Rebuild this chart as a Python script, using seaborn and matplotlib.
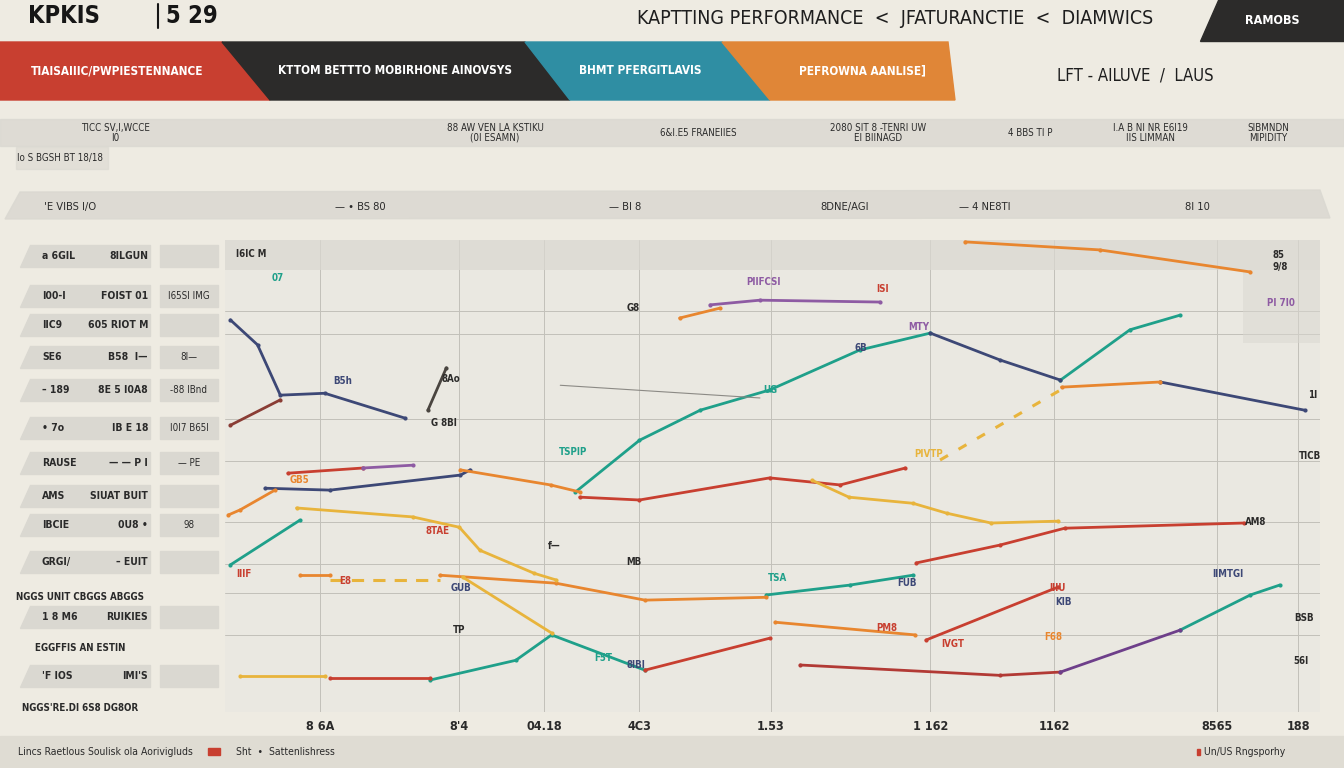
"""
KPI performance dashboard - line chart recreation
"""

import matplotlib
matplotlib.use("Agg")
import matplotlib.pyplot as plt
from matplotlib.patches import Polygon, Rectangle
import seaborn as sns

BG     = "#EEEBE2"
PANEL  = "#DAD8D1"
PLOTBG = "#EAE8E1"
RED    = "#C83F30"
NAVY   = "#3D4876"
TEAL   = "#1FA08A"
ORANGE = "#E8862F"
GOLD   = "#E8B43C"
PURPLE = "#8E5BA3"
DARK   = "#2C2B2A"

# ---- series data (x: period index 0-100, y: score 0-100) ----
teal_a_x = [0.5, 6.9]
teal_a_y = [30.9, 40.4]
teal_b_x = [18.9, 26.8, 30.1, 38.7]
teal_b_y = [6.4, 10.6, 16.0, 8.5]
teal_c_x = [32.3, 38.2, 43.8, 50.2, 58.5, 65.0]
teal_c_y = [46.4, 57.4, 63.8, 68.1, 76.6, 80.2]
teal_d_x = [77.0, 83.4, 88.0]
teal_d_y = [70.2, 80.9, 84.0]
teal_e_x = [49.9, 57.6, 63.4]
teal_e_y = [24.5, 26.6, 28.7]
teal_f_x = [88.0, 94.5, 97.2]
teal_f_y = [17.0, 24.5, 26.6]

navy_a_x = [0.5, 3.0, 5.1, 9.2, 16.6]
navy_a_y = [83.0, 77.7, 67.0, 67.4, 62.1]
navy_b_x = [3.7, 9.7, 21.7, 22.6]
navy_b_y = [47.2, 46.8, 50.0, 51.1]
navy_c_x = [65.0, 71.4, 77.0]
navy_c_y = [80.2, 74.5, 70.2]
navy_d_x = [86.2, 99.5]
navy_d_y = [69.8, 63.8]
navy_e_x = [18.7, 20.4]
navy_e_y = [63.8, 72.8]

red_a_x = [0.5, 5.1]
red_a_y = [60.6, 66.0]
red_b_x = [5.8, 12.7]
red_b_y = [50.4, 51.5]
red_c_x = [32.7, 38.2, 50.2, 56.7, 62.7]
red_c_y = [45.3, 44.7, 49.4, 47.9, 51.5]
red_d_x = [63.7, 71.4, 77.4, 93.9]
red_d_y = [31.3, 35.1, 38.7, 39.8]
red_e_x = [9.7, 18.9]
red_e_y = [6.8, 6.8]
red_f_x = [38.7, 50.2]
red_f_y = [8.5, 15.3]
red_g_x = [64.6, 76.8]
red_g_y = [14.9, 26.2]
red_h_x = [53.0, 71.4, 77.0]
red_h_y = [9.6, 7.4, 8.1]

purple_a_x = [77.0, 88.0]
purple_a_y = [8.1, 17.0]
purple_b_x = [44.7, 49.3, 60.4]
purple_b_y = [86.2, 87.2, 86.8]
purple_c_x = [12.7, 17.3]
purple_c_y = [51.5, 52.1]

orange_a_x = [0.3, 1.4, 4.6]
orange_a_y = [41.5, 42.6, 46.8]
orange_b_x = [6.9, 9.7]
orange_b_y = [28.7, 28.7]
orange_c_x = [21.7, 30.0, 32.7]
orange_c_y = [51.1, 47.9, 46.4]
orange_d_x = [68.2, 80.6, 94.5]
orange_d_y = [99.6, 97.9, 93.2]
orange_e_x = [19.8, 30.5, 38.7, 49.9]
orange_e_y = [28.7, 27.0, 23.4, 24.0]
orange_f_x = [77.1, 86.2]
orange_f_y = [68.7, 69.8]
orange_g_x = [50.7, 63.6]
orange_g_y = [18.7, 16.0]
orange_h_x = [41.9, 45.6]
orange_h_y = [83.4, 85.5]

gold_a_x = [1.4, 9.2]
gold_a_y = [7.2, 7.2]
gold_b_x = [6.6, 17.3, 21.6, 23.5, 28.5, 30.5]
gold_b_y = [43.0, 41.1, 38.9, 34.0, 29.1, 27.7]
gold_c_x = [21.9, 30.1]
gold_c_y = [28.3, 16.4]
gold_d_x = [54.1, 57.5, 63.4, 66.5, 70.6, 76.8]
gold_d_y = [48.9, 45.3, 44.0, 41.9, 39.8, 40.2]
gold_e_x = [65.9, 77.0]
gold_e_y = [53.2, 68.1]
gold_f_x = [9.7, 19.8]
gold_f_y = [27.7, 27.7]

gray_a_x = [30.9, 49.3]
gray_a_y = [69.1, 66.4]

x_ticks  = [8.8, 21.6, 29.4, 38.2, 50.3, 65.0, 76.4, 91.4, 98.9]
x_labels = ["8 6A", "8'4", "04.18", "4C3", "1.53", "1 162", "1162", "8565", "188"]

# small in-chart labels: (x, y, text, colour)
point_labels = [
    (1.0, 97.0, "I6IC M", DARK), (4.3, 92.0, "07", TEAL),
    (10.0, 70.0, "B5h", NAVY), (20.0, 70.5, "8Ao", DARK),
    (19.0, 61.0, "G 8BI", DARK), (30.8, 55.0, "TSPIP", TEAL),
    (6.0, 49.0, "GB5", ORANGE), (18.5, 38.0, "8TAE", RED),
    (29.8, 35.0, "f\u2014", DARK), (37.0, 31.5, "MB", DARK),
    (1.0, 29.0, "IIIF", RED), (10.5, 27.5, "E8", RED),
    (20.8, 26.0, "GUB", NAVY), (21.0, 17.0, "TP", DARK),
    (34.0, 11.0, "F5T", TEAL), (37.0, 9.5, "8IBI", NAVY),
    (48.0, 91.0, "PIIFCSI", PURPLE), (37.0, 85.5, "G8", DARK),
    (60.0, 89.5, "ISI", RED), (63.0, 81.5, "MTY", PURPLE),
    (58.0, 77.0, "6B", NAVY), (49.6, 68.0, "UG", TEAL),
    (63.5, 54.5, "PIVTP", GOLD), (50.0, 28.0, "TSA", TEAL),
    (62.0, 27.0, "FUB", NAVY), (60.0, 17.5, "PM8", RED),
    (66.0, 14.0, "IVGT", RED), (76.0, 26.0, "IIIU", RED),
    (76.5, 23.0, "KIB", NAVY), (75.5, 15.5, "F68", ORANGE),
    (91.0, 29.0, "IIMTGI", NAVY), (94.0, 40.0, "AM8", DARK),
    (96.5, 95.5, "85\n9/8", DARK), (96.0, 86.5, "PI 7I0", PURPLE),
    (99.8, 67.0, "1I", DARK), (99.0, 54.0, "TICB", DARK),
    (98.5, 19.5, "BSB", DARK), (98.5, 10.5, "56I", DARK),
]

# left KPI table rows: (row centre px, left label, middle label, right label)
table_rows = [
    (256, "a 6GIL", "8ILGUN", ""),
    (296, "I00-I", "FOIST 01", "I65SI IMG"),
    (325, "IIC9", "605 RIOT M", ""),
    (357, "SE6", "B58  I\u2014", "8I\u2014"),
    (390, "\u2013 189", "8E 5 I0A8", "-88 IBnd"),
    (428, "\u2022 7o", "IB E 18", "I0I7 B65I"),
    (463, "RAUSE", "\u2014 \u2014 P I", "\u2014 PE"),
    (496, "AMS", "SIUAT BUIT", ""),
    (525, "IBCIE", "0U8 \u2022", "98"),
    (562, "GRGI/", "\u2013 EUIT", ""),
    (617, "1 8 M6", "RUIKIES", ""),
    (676, "'F IOS", "IMI'S", ""),
]
table_notes = [
    (597, "NGGS UNIT CBGGS ABGGS"),
    (648, "EGGFFIS AN ESTIN"),
    (708, "NGGS'RE.DI 6S8 DG8OR"),
]

header_labels = [
    (115, "TICC SV,I,WCCE\nI0"), (495, "88 AW VEN LA KSTIKU\n(0I ESAMN)"),
    (698, "6&I.E5 FRANEIIES"), (878, "2080 SIT 8 -TENRI UW\nEI BIINAGD"),
    (1030, "4 BBS TI P"), (1150, "I.A B NI NR E6I19\nIIS LIMMAN"),
    (1268, "SIBMNDN\nMIPIDITY"),
]
strip_labels = [
    (70, "'E VIBS I/O"), (360, "\u2014 \u2022 BS 80"), (625, "\u2014 Bl 8"),
    (845, "8DNE/AGI"), (985, "\u2014 4 NE8TI"), (1197, "8I 10"),
]

sns.set_theme(style="white")
plt.rcParams["font.family"] = ["DejaVu Sans"]
plt.rcParams["font.stretch"] = "condensed"

fig = plt.figure(figsize=(13.44, 7.68), dpi=100, facecolor=BG)

# ---- decorative layer in pixel coordinates ----
deco = fig.add_axes([0, 0, 1, 1], zorder=0)
deco.set_xlim(0, 1344)
deco.set_ylim(768, 0)
deco.axis("off")
deco.set_facecolor(BG)

deco.text(28, 16, "KPKIS", fontsize=17, fontweight="bold", color="#161616", va="center")
deco.plot([158, 158], [4, 28], color="#161616", lw=1.5)
deco.text(166, 16, "5 29", fontsize=17, fontweight="bold", color="#161616", va="center")
deco.text(895, 18, "KAPTTING PERFORMANCE  <  JFATURANCTIE  <  DIAMWICS",
          fontsize=14, color="#1E1E1E", ha="center", va="center")
deco.add_patch(Polygon([[1218, 0], [1344, 0], [1344, 41], [1200, 41]], color=DARK))
deco.text(1272, 20, "RAMOBS", fontsize=9, color="white", ha="center", va="center", fontweight="bold")

bands = [
    ([[0, 42], [222, 42], [270, 100], [0, 100]], RED, 117, "TIAISAIIIC/PWPIESTENNANCE"),
    ([[222, 42], [525, 42], [570, 100], [270, 100]], DARK, 395, "KTTOM BETTTO MOBIRHONE AINOVSYS"),
    ([[525, 42], [722, 42], [770, 100], [570, 100]], "#2F8EA3", 640, "BHMT PFERGITLAVIS"),
    ([[722, 42], [948, 42], [955, 100], [770, 100]], "#E08637", 862, "PEFROWNA AANLISE]"),
]
for pts, col, tx, txt in bands:
    deco.add_patch(Polygon(pts, color=col))
    deco.text(tx, 71, txt, fontsize=8.5, color="white", ha="center", va="center", fontweight="bold")
deco.text(1135, 75, "LFT - AILUVE  /  LAUS", fontsize=12, color="#1E1E1E", ha="center", va="center")

deco.add_patch(Rectangle((0, 119), 1344, 27, color=PANEL, alpha=0.8))
for tx, txt in header_labels:
    deco.text(tx, 133, txt, fontsize=7, color="#2A2A2A", ha="center", va="center", linespacing=0.9)
deco.add_patch(Rectangle((16, 147), 92, 22, color=PANEL, alpha=0.6))
deco.text(60, 158, "lo S BGSH BT 18/18", fontsize=7, color="#2A2A2A", ha="center", va="center")

deco.add_patch(Polygon([[20, 192], [1320, 190], [1330, 218], [5, 219]], color=PANEL, alpha=0.85))
for tx, txt in strip_labels:
    deco.text(tx, 207, txt, fontsize=8, color="#2A2A2A", ha="center", va="center")

for py, left, mid, right in table_rows:
    deco.add_patch(Polygon([[30, py - 11], [150, py - 11], [150, py + 11], [20, py + 11]], color=PANEL))
    deco.add_patch(Rectangle((160, py - 11), 58, 22, color=PANEL))
    deco.text(42, py, left, fontsize=7.5, color="#2A2A2A", va="center", fontweight="bold")
    deco.text(148, py, mid, fontsize=7.5, color="#2A2A2A", va="center", ha="right", fontweight="bold")
    deco.text(189, py, right, fontsize=7, color="#2A2A2A", va="center", ha="center")
for py, txt in table_notes:
    deco.text(80, py, txt, fontsize=7, color="#2A2A2A", va="center", ha="center", fontweight="bold")

deco.add_patch(Rectangle((0, 736), 1344, 32, color="#DFDCD3"))
deco.text(18, 752, "Lincs Raetlous Soulisk ola Aorivigluds", fontsize=7.5, color="#2A2A2A", va="center")
deco.add_patch(Rectangle((208, 748), 12, 7, color=RED))
deco.text(236, 752, "Sht  \u2022  Sattenlishress", fontsize=7.5, color="#2A2A2A", va="center")
deco.add_patch(Rectangle((1197, 749), 3, 6, color=RED))
deco.text(1204, 752, "Un/US Rngsporhy", fontsize=7.5, color="#2A2A2A", va="center")

# ---- main line chart ----
ax = fig.add_axes([0.1674, 0.0729, 0.8146, 0.6146], zorder=1)
ax.set_facecolor(PLOTBG)
ax.axhspan(93.6, 100, color=PANEL, alpha=0.7, lw=0)
ax.axhspan(78, 93.6, xmin=0.93, xmax=1.0, color=PANEL, alpha=0.5, lw=0)

series = [
    (teal_a_x, teal_a_y, TEAL), (teal_b_x, teal_b_y, TEAL), (teal_c_x, teal_c_y, TEAL),
    (teal_d_x, teal_d_y, TEAL), (teal_e_x, teal_e_y, TEAL), (teal_f_x, teal_f_y, TEAL),
    (navy_a_x, navy_a_y, NAVY), (navy_b_x, navy_b_y, NAVY), (navy_c_x, navy_c_y, NAVY),
    (navy_d_x, navy_d_y, NAVY), (navy_e_x, navy_e_y, "#4A4540"),
    (red_a_x, red_a_y, "#8A3D35"), (red_b_x, red_b_y, RED), (red_c_x, red_c_y, RED),
    (red_d_x, red_d_y, RED), (red_e_x, red_e_y, RED), (red_f_x, red_f_y, RED),
    (red_g_x, red_g_y, RED), (red_h_x, red_h_y, "#B23A35"),
    (purple_a_x, purple_a_y, "#6E3F8A"), (purple_b_x, purple_b_y, PURPLE),
    (purple_c_x, purple_c_y, PURPLE),
    (orange_a_x, orange_a_y, ORANGE), (orange_b_x, orange_b_y, ORANGE),
    (orange_c_x, orange_c_y, ORANGE), (orange_d_x, orange_d_y, ORANGE),
    (orange_e_x, orange_e_y, ORANGE), (orange_f_x, orange_f_y, ORANGE),
    (orange_g_x, orange_g_y, ORANGE), (orange_h_x, orange_h_y, ORANGE),
    (gold_a_x, gold_a_y, GOLD), (gold_b_x, gold_b_y, GOLD), (gold_c_x, gold_c_y, GOLD),
    (gold_d_x, gold_d_y, GOLD),
]
for xs, ys, col in series:
    sns.lineplot(x=xs, y=ys, color=col, linewidth=2.0, sort=False, ax=ax,
                 marker="o", markersize=3, markeredgewidth=0)

sns.lineplot(x=gold_e_x, y=gold_e_y, color=GOLD, linewidth=2.2, linestyle=(0, (3, 4)), ax=ax)
sns.lineplot(x=gold_f_x, y=gold_f_y, color=GOLD, linewidth=2.2, linestyle=(0, (4, 3)), ax=ax)
sns.lineplot(x=gray_a_x, y=gray_a_y, color="#8C8A85", linewidth=0.8, ax=ax)

for x, y, txt, col in point_labels:
    ax.text(x, y, txt, fontsize=7, color=col, ha="left", va="center", fontweight="bold")

ax.set_xlim(0, 100.9)
ax.set_ylim(-0.4, 100)
ax.set_xticks(x_ticks)
ax.set_xticklabels(x_labels, fontsize=9, fontweight="bold", color="#2A2A2A")
ax.set_yticks([16, 25, 31, 40, 53, 62, 80, 85])
ax.set_yticklabels([])
ax.tick_params(length=0, pad=6)
ax.grid(True, color="#C2C0B9", linewidth=0.7)
for sp in ax.spines.values():
    sp.set_visible(False)
ax.set_xlabel("")
ax.set_ylabel("")

fig.savefig("out.png", dpi=100, facecolor=BG)
plt.close()
